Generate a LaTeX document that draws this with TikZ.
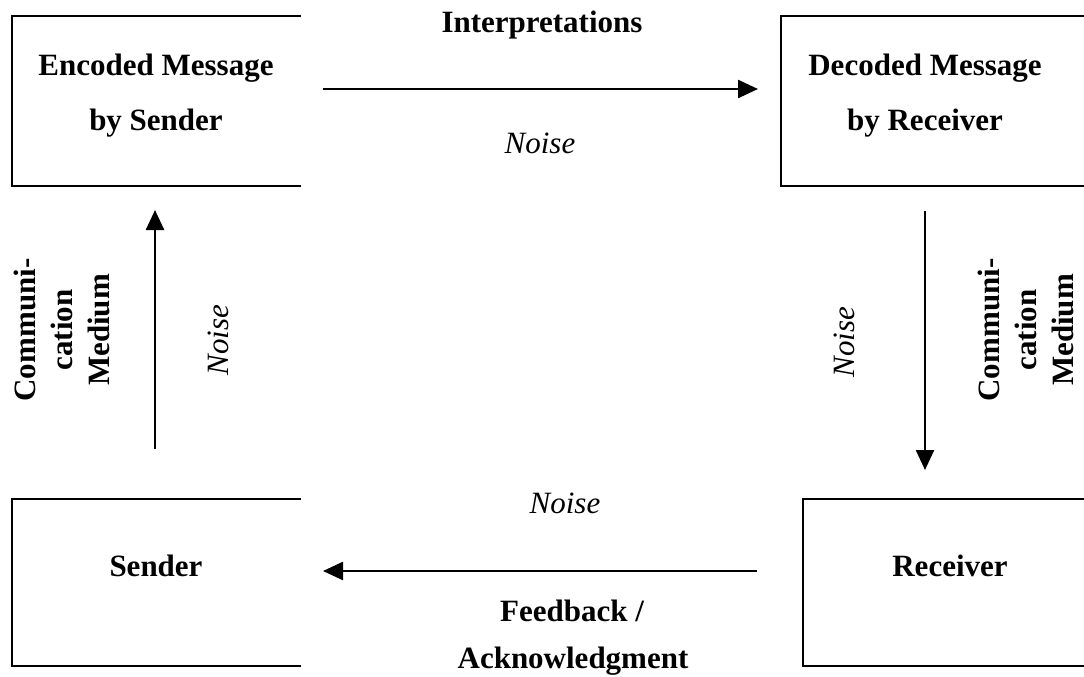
\documentclass[tikz,border=0pt]{standalone}
\usepackage{fontspec}
\setmainfont{Liberation Serif}
\usetikzlibrary{arrows.meta}
\tikzset{
  boxline/.style={line width=2.5pt, line cap=rect},
  arr/.style={line width=2.5pt, -{Triangle[length=20pt,width=18pt]}},
  txt/.style={inner sep=0pt, anchor=base, font=\fontsize{31}{37}\selectfont\bfseries},
  noise/.style={inner sep=0pt, font=\fontsize{31}{37}\selectfont\itshape},
  vtxt/.style={inner sep=0pt, align=center, rotate=90, font=\fontsize{31}{37}\selectfont\bfseries},
}
\begin{document}
\begin{tikzpicture}[x=1pt,y=-1pt]
\useasboundingbox (0,0) rectangle (1084,677);
% boxes (open on the right side)
\coordinate (encNE) at (300,16); \coordinate (encNW) at (12,16);
\coordinate (encSW) at (12,186); \coordinate (encSE) at (300,186);
\draw[boxline] (encNE) -- (encNW) -- (encSW) -- (encSE);
\coordinate (decNE) at (1084,16); \coordinate (decNW) at (781,16);
\coordinate (decSW) at (781,186); \coordinate (decSE) at (1084,186);
\draw[boxline] (decNE) -- (decNW) -- (decSW) -- (decSE);
\coordinate (sndNE) at (300,499); \coordinate (sndNW) at (12,499);
\coordinate (sndSW) at (12,666); \coordinate (sndSE) at (300,666);
\draw[boxline] (sndNE) -- (sndNW) -- (sndSW) -- (sndSE);
\coordinate (rcvNE) at (1084,499); \coordinate (rcvNW) at (803,499);
\coordinate (rcvSW) at (803,666); \coordinate (rcvSE) at (1084,666);
\draw[boxline] (rcvNE) -- (rcvNW) -- (rcvSW) -- (rcvSE);
% box texts
\node[txt] (enc1) at (156,75) {Encoded Message};
\node[txt] (enc2) at (156,130) {by Sender};
\node[txt] (dec1) at (925,75) {Decoded Message};
\node[txt] (dec2) at (925,130) {by Receiver};
\node[txt] (snd) at (156,576) {Sender};
\node[txt] (rcv) at (950,576) {Receiver};
% arrow end points
\coordinate (topS) at (323,89); \coordinate (topE) at (758,89);
\coordinate (botS) at (757,571); \coordinate (botE) at (323,571);
\coordinate (leftS) at (155,449); \coordinate (leftE) at (155,210);
\coordinate (rightS) at (925,211); \coordinate (rightE) at (925,470);
\draw[arr] (topS) -- (topE);
\draw[arr] (botS) -- (botE);
\draw[arr] (leftS) -- (leftE);
\draw[arr] (rightS) -- (rightE);
% arrow labels
\node[txt] (interp) at (542,33) {Interpretations};
\node[noise, anchor=base] (noiseTop) at (540,153) {Noise};
\node[noise, anchor=base] (noiseBot) at (565,513) {Noise};
\node[txt] (fb1) at (572,621) {Feedback /};
\node[txt] (fb2) at (573,668) {Acknowledgment};
\node[vtxt] (medL) at (62,330) {Communi-\\cation\\Medium};
\node[vtxt] (medR) at (1026,330) {Communi-\\cation\\Medium};
\node[noise, rotate=90] (noiseL) at (218,340) {Noise};
\node[noise, rotate=90] (noiseR) at (844,342) {Noise};
\end{tikzpicture}
\end{document}
